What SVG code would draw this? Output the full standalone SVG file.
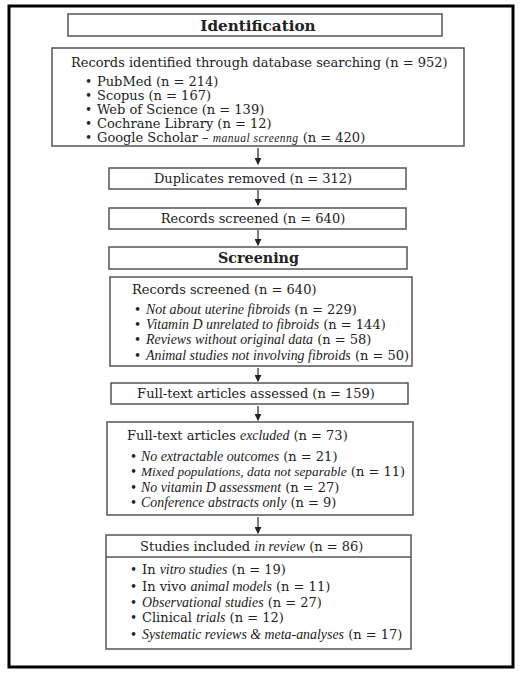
<svg xmlns="http://www.w3.org/2000/svg" width="527" height="677" viewBox="0 0 527 677">
<style>
text{font-family:"DejaVu Serif","Liberation Serif",serif;font-size:13px;fill:#222}
.h{font-weight:bold;text-anchor:middle}
.c{text-anchor:middle}
.i{font-family:"Liberation Serif","Times New Roman",serif;font-style:italic;font-size:13.9px}
.s{font-family:"Liberation Serif","Times New Roman",serif;font-style:italic;font-size:11.5px;letter-spacing:0.5px}
.b{font-size:12px}
.box{fill:#fff;stroke:#555;stroke-width:1.5}
.conn line{stroke:#222;stroke-width:1.2}
</style>
<defs>
<marker id="ah" viewBox="0 0 8 8" refX="7" refY="4" markerWidth="7" markerHeight="7" markerUnits="userSpaceOnUse" orient="auto">
<path d="M0,0 L8,4 L0,8 z" fill="#222"/>
</marker>
</defs>
<rect x="0" y="0" width="527" height="677" fill="#fff"/>
<rect x="9" y="6" width="504" height="661" fill="none" stroke="#000" stroke-width="3"/>

<g id="identification">
<rect class="box" x="68" y="14" width="374" height="22"/>
<text class="h" x="258" y="31" style="font-size:15.2px">Identification</text>
</g>

<g id="records-identified">
<rect class="box" x="52" y="48" width="412" height="98"/>
<text x="71" y="67">Records identified through database searching (n = 952)</text>
<text class="b" x="85" y="86">•</text><text x="97" y="86">PubMed (n = 214)</text>
<text class="b" x="85" y="100">•</text><text x="97" y="100">Scopus (n = 167)</text>
<text class="b" x="85" y="114">•</text><text x="97" y="114">Web of Science (n = 139)</text>
<text class="b" x="85" y="128">•</text><text x="97" y="128">Cochrane Library (n = 12)</text>
<text class="b" x="85" y="142">•</text><text x="97" y="142">Google Scholar – <tspan class="s">manual screenng</tspan> (n = 420)</text>
</g>

<g id="duplicates">
<rect class="box" x="109" y="168" width="297" height="21"/>
<text class="c" x="253" y="183">Duplicates removed (n = 312)</text>
</g>

<g id="records-screened">
<rect class="box" x="109" y="208" width="297" height="21"/>
<text class="c" x="253" y="223">Records screened (n = 640)</text>
</g>

<g id="screening">
<rect class="box" x="109" y="247" width="298" height="22"/>
<text class="h" x="258.5" y="263" style="font-size:14.3px">Screening</text>
</g>

<g id="screened-exclusions">
<rect class="box" x="110" y="277" width="302" height="89"/>
<text x="132" y="294">Records screened (n = 640)</text>
<text class="b" x="134" y="314">•</text><text x="146" y="314"><tspan class="i">Not about uterine fibroids</tspan> (n = 229)</text>
<text class="b" x="134" y="329">•</text><text x="146" y="329"><tspan class="i">Vitamin D unrelated to fibroids</tspan> (n = 144)</text>
<text class="b" x="134" y="344">•</text><text x="146" y="344"><tspan class="i">Reviews without original data</tspan> (n = 58)</text>
<text class="b" x="134" y="360">•</text><text x="146" y="360"><tspan class="i">Animal studies not involving fibroids</tspan> (n = 50)</text>
</g>

<g id="fulltext-assessed">
<rect class="box" x="111" y="383" width="297" height="21"/>
<text class="c" x="256" y="398">Full-text articles assessed (n = 159)</text>
</g>

<g id="fulltext-excluded">
<rect class="box" x="107" y="422" width="306" height="93"/>
<text x="127" y="440">Full-text articles <tspan class="i">excluded</tspan> (n = 73)</text>
<text class="b" x="130" y="461">•</text><text x="141" y="461"><tspan class="i">No extractable outcomes</tspan> (n = 21)</text>
<text class="b" x="130" y="476">•</text><text x="141" y="476"><tspan class="i" style="font-size:13.3px">Mixed populations, data not separable</tspan> (n = 11)</text>
<text class="b" x="130" y="492">•</text><text x="141" y="492"><tspan class="i">No vitamin D assessment</tspan> (n = 27)</text>
<text class="b" x="130" y="507">•</text><text x="141" y="507"><tspan class="i">Conference abstracts only</tspan> (n = 9)</text>
</g>

<g id="studies-included">
<rect class="box" x="106" y="535" width="305" height="114"/>
<line x1="106" y1="557" x2="411" y2="557" stroke="#555" stroke-width="1.5"/>
<text x="140" y="551">Studies included <tspan class="i">in review</tspan> (n = 86)</text>
<text class="b" x="130" y="574">•</text><text x="142" y="574">In <tspan class="i">vitro studies</tspan> (n = 19)</text>
<text class="b" x="130" y="591">•</text><text x="142" y="591">In vivo <tspan class="i">animal models</tspan> (n = 11)</text>
<text class="b" x="130" y="607">•</text><text x="142" y="607"><tspan class="i">Observational studies</tspan> (n = 27)</text>
<text class="b" x="130" y="622">•</text><text x="142" y="622">Clinical <tspan class="i">trials</tspan> (n = 12)</text>
<text class="b" x="130" y="639">•</text><text x="142" y="639"><tspan class="i">Systematic reviews &amp; meta-analyses</tspan> (n = 17)</text>
</g>

<g id="connectors" class="conn">
<line x1="258" y1="148" x2="258" y2="164" marker-end="url(#ah)"/>
<line x1="258" y1="190" x2="258" y2="205" marker-end="url(#ah)"/>
<line x1="258" y1="230" x2="258" y2="245" marker-end="url(#ah)"/>
<line x1="258" y1="368" x2="258" y2="381" marker-end="url(#ah)"/>
<line x1="258" y1="406" x2="258" y2="420" marker-end="url(#ah)"/>
<line x1="258" y1="517" x2="258" y2="533" marker-end="url(#ah)"/>
</g>
</svg>
